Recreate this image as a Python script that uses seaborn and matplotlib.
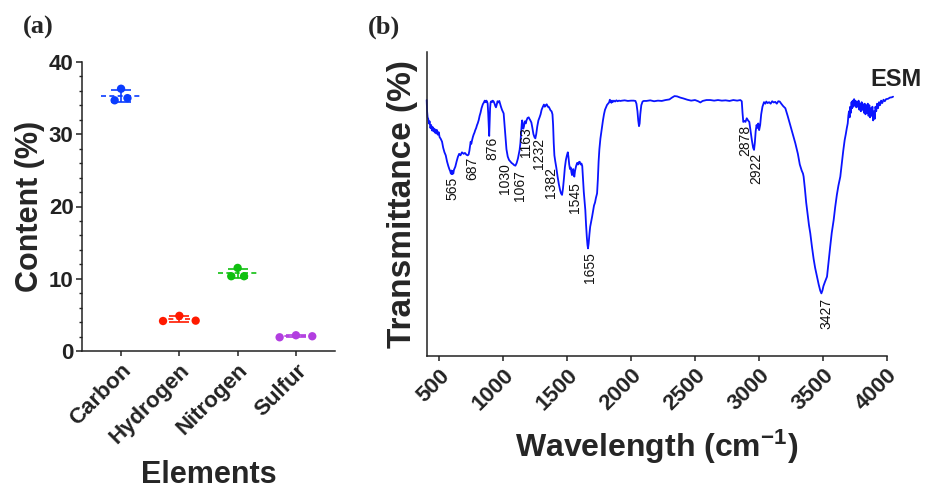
import numpy as np
import pandas as pd
import matplotlib
matplotlib.use('Agg')
import matplotlib.pyplot as plt
import seaborn as sns
from matplotlib.ticker import MultipleLocator

# ---------------- data: panel (a) ----------------
elements = ['Carbon', 'Hydrogen', 'Nitrogen', 'Sulfur']
carbon = [34.7, 36.3, 35.0]
hydrogen = [4.15, 4.87, 4.2]
nitrogen = [10.35, 11.5, 10.35]
sulfur = [1.9, 2.18, 2.04]
element_colors = ['#0a3cff', '#ff1a00', '#10c010', '#b23ee0']

# ---------------- data: panel (b) FTIR spectrum ----------------
wavenumber = [401, 404, 408, 413, 418, 424, 430, 436, 442, 448, 452, 458, 464, 470, 476, 482, 488, 495,
              502, 510, 521, 530, 540, 550, 560, 570, 578, 585, 590, 595, 599, 604, 609, 614, 620, 625,
              635, 645, 655, 665, 677, 690, 700, 712, 722, 729, 735, 740, 745, 750, 756, 762, 768, 775,
              780, 788, 795, 800, 808, 815, 822, 830, 840, 847, 855, 862, 868, 873, 878, 882, 886, 890,
              893, 897, 901, 906, 912, 918, 925, 932, 938, 943, 948, 955, 962, 969, 975, 982, 990, 1003,
              1010, 1018, 1025, 1035, 1045, 1055, 1065, 1075, 1085, 1095, 1105, 1115, 1122, 1128, 1134,
              1140, 1145, 1148, 1152, 1157, 1162, 1166, 1170, 1176, 1182, 1190, 1199, 1205, 1212, 1220,
              1228, 1236, 1244, 1251, 1258, 1266, 1275, 1284, 1292, 1300, 1310, 1318, 1325, 1332, 1340,
              1348, 1355, 1362, 1370, 1378, 1385, 1390, 1395, 1400, 1407, 1415, 1425, 1435, 1445, 1452,
              1460, 1467, 1475, 1482, 1490, 1498, 1505, 1510, 1516, 1522, 1528, 1533, 1538, 1542, 1547,
              1551, 1556, 1562, 1570, 1578, 1585, 1592, 1598, 1605, 1612, 1618, 1624, 1630, 1636, 1642,
              1648, 1654, 1659, 1663, 1668, 1674, 1680, 1687, 1695, 1702, 1710, 1718, 1725, 1734, 1740,
              1746, 1752, 1760, 1768, 1773, 1780, 1788, 1796, 1804, 1812, 1820, 1828, 1834, 1840, 1846,
              1851, 1858, 1866, 1875, 1885, 1895, 1905, 1916, 1930, 1950, 1975, 2000, 2020, 2034, 2042,
              2050, 2056, 2062, 2067, 2072, 2080, 2090, 2099, 2120, 2150, 2180, 2210, 2240, 2270, 2300,
              2320, 2340, 2360, 2385, 2411, 2440, 2470, 2500, 2525, 2542, 2560, 2590, 2620, 2650, 2680,
              2710, 2740, 2770, 2800, 2830, 2855, 2866, 2872, 2878, 2886, 2895, 2905, 2915, 2925, 2935,
              2945, 2955, 2962, 2968, 2975, 2982, 2988, 2995, 3002, 3010, 3018, 3028, 3040, 3050, 3058,
              3068, 3080, 3092, 3104, 3116, 3128, 3140, 3152, 3163, 3175, 3190, 3207, 3225, 3245, 3265,
              3285, 3305, 3320, 3335, 3345, 3350, 3360, 3370, 3380, 3392, 3402, 3415, 3428, 3440, 3455,
              3468, 3480, 3489, 3497, 3505, 3518, 3533, 3545, 3558, 3570, 3585, 3597, 3610, 3622, 3637,
              3648, 3660, 3671, 3680, 3688, 3695, 3700, 3705, 3710, 3715, 3720, 3725, 3729, 3734, 3740,
              3745, 3750, 3756, 3762, 3768, 3774, 3780, 3786, 3792, 3798, 3804, 3810, 3816, 3822, 3828,
              3834, 3840, 3846, 3852, 3858, 3864, 3870, 3876, 3882, 3888, 3894, 3900, 3906, 3912, 3918,
              3925, 3932, 3940, 3948, 3956, 3965, 3975, 3985, 3995, 4010, 4025, 4040, 4050]
transmittance = [84.2, 80.5, 78.5, 78.0, 76.5, 77.2, 75.0, 76.0, 74.2, 75.3, 74.0, 74.8, 73.5, 74.5, 73.2,
                 74.3, 72.8, 73.6, 72.0, 71.5, 70.5, 68.5, 67.0, 66.0, 64.0, 62.5, 61.5, 60.8, 60.0, 61.0,
                 59.8, 60.8, 60.0, 61.2, 61.8, 62.3, 64.0, 65.5, 66.5, 66.0, 67.0, 66.5, 66.8, 66.2, 66.0,
                 66.3, 67.5, 69.0, 70.5, 69.8, 71.0, 72.0, 72.8, 73.5, 74.2, 75.0, 76.0, 76.5, 77.6, 79.0,
                 80.0, 81.5, 82.8, 83.3, 84.0, 83.5, 84.0, 83.7, 83.0, 80.0, 76.0, 72.4, 76.0, 81.5, 83.4,
                 83.8, 83.5, 84.0, 83.7, 83.0, 82.2, 81.8, 82.5, 83.8, 83.4, 83.9, 83.0, 82.0, 81.0, 79.8,
                 76.0, 71.5, 68.0, 65.6, 64.5, 64.0, 63.5, 63.2, 62.8, 62.6, 63.5, 65.0, 66.5, 67.8, 70.0,
                 73.5, 76.5, 77.5, 75.5, 74.8, 75.5, 76.8, 77.2, 76.5, 77.5, 78.3, 78.5, 78.0, 77.5, 76.8,
                 75.0, 73.0, 72.0, 71.6, 73.0, 75.5, 77.5, 78.5, 79.5, 81.0, 82.0, 82.7, 82.0, 82.5, 82.8,
                 82.0, 82.0, 81.5, 80.8, 80.5, 79.5, 76.0, 70.0, 66.0, 64.0, 62.0, 59.0, 56.5, 54.5, 53.5,
                 53.0, 55.0, 58.5, 62.0, 64.5, 66.0, 67.0, 65.5, 63.0, 61.5, 62.0, 60.5, 59.5, 60.5, 61.5,
                 60.0, 59.0, 61.0, 62.5, 63.5, 63.0, 63.8, 63.9, 63.0, 63.3, 62.5, 58.0, 54.0, 51.0, 48.0,
                 43.0, 39.0, 36.5, 35.4, 37.0, 40.0, 42.5, 44.0, 45.8, 47.5, 49.5, 50.5, 52.0, 53.5, 58.0,
                 64.0, 68.0, 71.5, 74.0, 75.4, 77.5, 79.5, 81.0, 81.8, 82.6, 83.0, 83.4, 84.3, 83.8, 83.3,
                 84.0, 83.6, 84.0, 83.7, 84.1, 83.8, 84.0, 83.9, 84.0, 84.1, 83.9, 84.0, 84.0, 83.9, 83.0,
                 80.5, 77.5, 75.6, 76.5, 79.5, 82.5, 83.7, 83.9, 83.9, 84.1, 83.8, 84.0, 83.9, 84.2, 84.4,
                 85.0, 85.5, 85.4, 85.0, 84.7, 84.3, 84.0, 84.2, 83.8, 83.4, 83.9, 84.2, 84.2, 84.0, 84.2,
                 84.0, 84.1, 83.9, 84.2, 84.0, 84.2, 83.8, 80.0, 77.0, 77.3, 77.0, 78.2, 77.5, 77.0, 74.0,
                 71.0, 68.5, 67.8, 70.0, 74.0, 76.0, 75.0, 76.5, 74.3, 76.0, 79.5, 82.0, 83.5, 83.0, 83.7,
                 83.2, 83.5, 83.0, 83.8, 83.4, 83.6, 83.0, 83.8, 83.7, 83.0, 82.2, 81.5, 79.0, 76.0, 73.0,
                 70.0, 66.5, 63.0, 61.0, 60.0, 59.0, 55.0, 50.5, 47.0, 43.0, 40.4, 36.0, 32.0, 29.0, 26.1,
                 23.5, 21.5, 20.6, 21.5, 23.0, 24.5, 26.1, 31.0, 36.0, 40.5, 44.7, 49.0, 53.0, 56.0, 59.0,
                 63.0, 67.5, 71.0, 73.0, 75.0, 76.5, 79.0, 80.5, 78.5, 82.0, 80.0, 83.5, 81.5, 84.0, 82.0,
                 84.5, 82.5, 84.0, 81.8, 83.5, 82.0, 84.0, 81.0, 83.0, 80.5, 83.5, 81.0, 82.8, 80.0, 83.0,
                 79.5, 82.5, 80.0, 83.0, 79.0, 82.5, 78.5, 81.5, 79.0, 82.0, 77.5, 80.5, 78.0, 82.0, 80.5,
                 83.0, 81.5, 83.5, 82.5, 84.0, 83.2, 84.3, 83.8, 84.5, 84.6, 85.0, 85.1, 85.3]

peak_labels = ['565', '687', '876', '1030', '1067', '1163', '1232', '1382', '1545', '1655',
               '2878', '2922', '3427']
# anchor (wavenumber, transmittance) of each label's top end
peak_label_x = [599, 756, 912, 1016, 1134, 1180, 1283, 1376, 1564, 1681, 2894, 2978, 3525]
peak_label_y = [59.0, 65.6, 72.1, 63.4, 61.2, 75.4, 71.6, 62.3, 57.3, 34.3, 76.0, 66.7, 19.0]

# ---------------- style ----------------
sns.set_style('ticks')
plt.rcParams['font.family'] = ['Liberation Sans', 'DejaVu Sans']
plt.rcParams['mathtext.fontset'] = 'custom'
plt.rcParams['mathtext.rm'] = 'Liberation Sans:bold'
plt.rcParams['mathtext.bf'] = 'Liberation Sans:bold'
plt.rcParams['mathtext.it'] = 'Liberation Sans:bold'
plt.rcParams['mathtext.default'] = 'bf'
plt.rcParams['axes.linewidth'] = 1.1
plt.rcParams['xtick.major.width'] = 1.1
plt.rcParams['ytick.major.width'] = 1.1
plt.rcParams['ytick.minor.width'] = 1.0
plt.rcParams['xtick.color'] = '#222222'
plt.rcParams['ytick.color'] = '#222222'
plt.rcParams['axes.edgecolor'] = '#222222'

W, H = 933, 491
fig = plt.figure(figsize=(W / 100, H / 100), dpi=100)

def box(l, r, b, t):
    return [l / W, (H - b) / H, (r - l) / W, (b - t) / H]

ax_a = fig.add_axes(box(82, 335, 351, 62))
ax_b = fig.add_axes(box(426.7, 886.7, 356, 52))

# ---------------- panel (a) ----------------
spread = [0.11, 0.28, 0.11, 0.28]
slot = [-1, 0, 1]
rows = []
for i, (el, vals) in enumerate(zip(elements, [carbon, hydrogen, nitrogen, sulfur])):
    for j, v in enumerate(vals):
        rows.append({'element': el, 'pos': i + slot[j] * spread[i], 'value': v})
df = pd.DataFrame(rows)
pal = dict(zip(elements, element_colors))

sns.scatterplot(data=df, x='pos', y='value', hue='element', palette=pal, s=36,
                linewidth=0, legend=False, ax=ax_a, zorder=3)

stats = df.groupby('element', sort=False)['value'].agg(['mean', 'std'])
for i, el in enumerate(elements):
    m, sd = stats.loc[el, 'mean'], stats.loc[el, 'std']
    c = pal[el]
    ax_a.errorbar(i, m, yerr=sd, fmt='none', ecolor=c, elinewidth=1.2,
                  capsize=7.5, capthick=1.2, zorder=2)
    ax_a.hlines(m, i - 0.34, i + 0.34, colors=c, linestyles=(0, (3, 2)), lw=1.2, zorder=2)

ax_a.set_xlim(-0.67, 3.67)
ax_a.set_ylim(0, 40)
ax_a.set_xticks(range(len(elements)))
ax_a.set_xticklabels(elements, rotation=45, ha='right', rotation_mode='anchor',
                     fontsize=16, fontweight='bold')
ax_a.yaxis.set_major_locator(MultipleLocator(10))
ax_a.yaxis.set_minor_locator(MultipleLocator(2))
ax_a.tick_params(axis='y', which='major', length=4, labelsize=16, pad=2)
ax_a.tick_params(axis='y', which='minor', length=2.2)
ax_a.tick_params(axis='x', length=3.5, pad=3)
for t in ax_a.get_yticklabels():
    t.set_fontweight('bold')
ax_a.set_xlabel('Elements', fontsize=22, fontweight='bold', va='center')
ax_a.set_ylabel('Content (%)', fontsize=22, fontweight='bold', va='center')
ax_a.xaxis.set_label_coords(0.5, (351 - 475) / 289)
ax_a.yaxis.set_label_coords((30 - 82) / 253, 0.5)
sns.despine(ax=ax_a)

# ---------------- panel (b) ----------------
sns.lineplot(x=wavenumber, y=transmittance, sort=False, estimator=None, color='#0a14ff',
             lw=1.3, ax=ax_b)
ax_b.lines[-1].set_clip_on(False)
for lab, x, y in zip(peak_labels, peak_label_x, peak_label_y):
    ax_b.text(x, y, lab, rotation=90, ha='center', va='top', fontsize=10, color='#111111')

ax_b.set_xlim(401, 4000)
ax_b.set_ylim(0, 100)
ax_b.set_xticks(range(500, 4001, 500))
ax_b.set_xticklabels([str(v) for v in range(500, 4001, 500)], rotation=45, ha='right',
                     rotation_mode='anchor', fontsize=16, fontweight='bold')
ax_b.tick_params(axis='x', length=3.5, pad=3)
ax_b.set_yticks([])
ax_b.set_xlabel('Wavelength (cm$^{-1}$)', fontsize=23, fontweight='bold', va='center')
ax_b.set_ylabel('Transmittance (%)', fontsize=24, fontweight='bold', va='center')
ax_b.xaxis.set_label_coords(0.5, (356 - 447) / 304)
ax_b.yaxis.set_label_coords((402 - 426.7) / 460, 0.5)
sns.despine(ax=ax_b)

fig.text(922 / W, 1 - 79 / H, 'ESM', ha='right', va='center', fontsize=17,
         fontweight='bold', color='#222222')
fig.text(23 / W, 1 - 27 / H, '(a)', ha='left', va='center', fontsize=19,
         fontweight='bold', family=['Liberation Serif', 'DejaVu Serif'])
fig.text(368 / W, 1 - 27 / H, '(b)', ha='left', va='center', fontsize=19,
         fontweight='bold', family=['Liberation Serif', 'DejaVu Serif'])

fig.savefig('out.png', dpi=100)
